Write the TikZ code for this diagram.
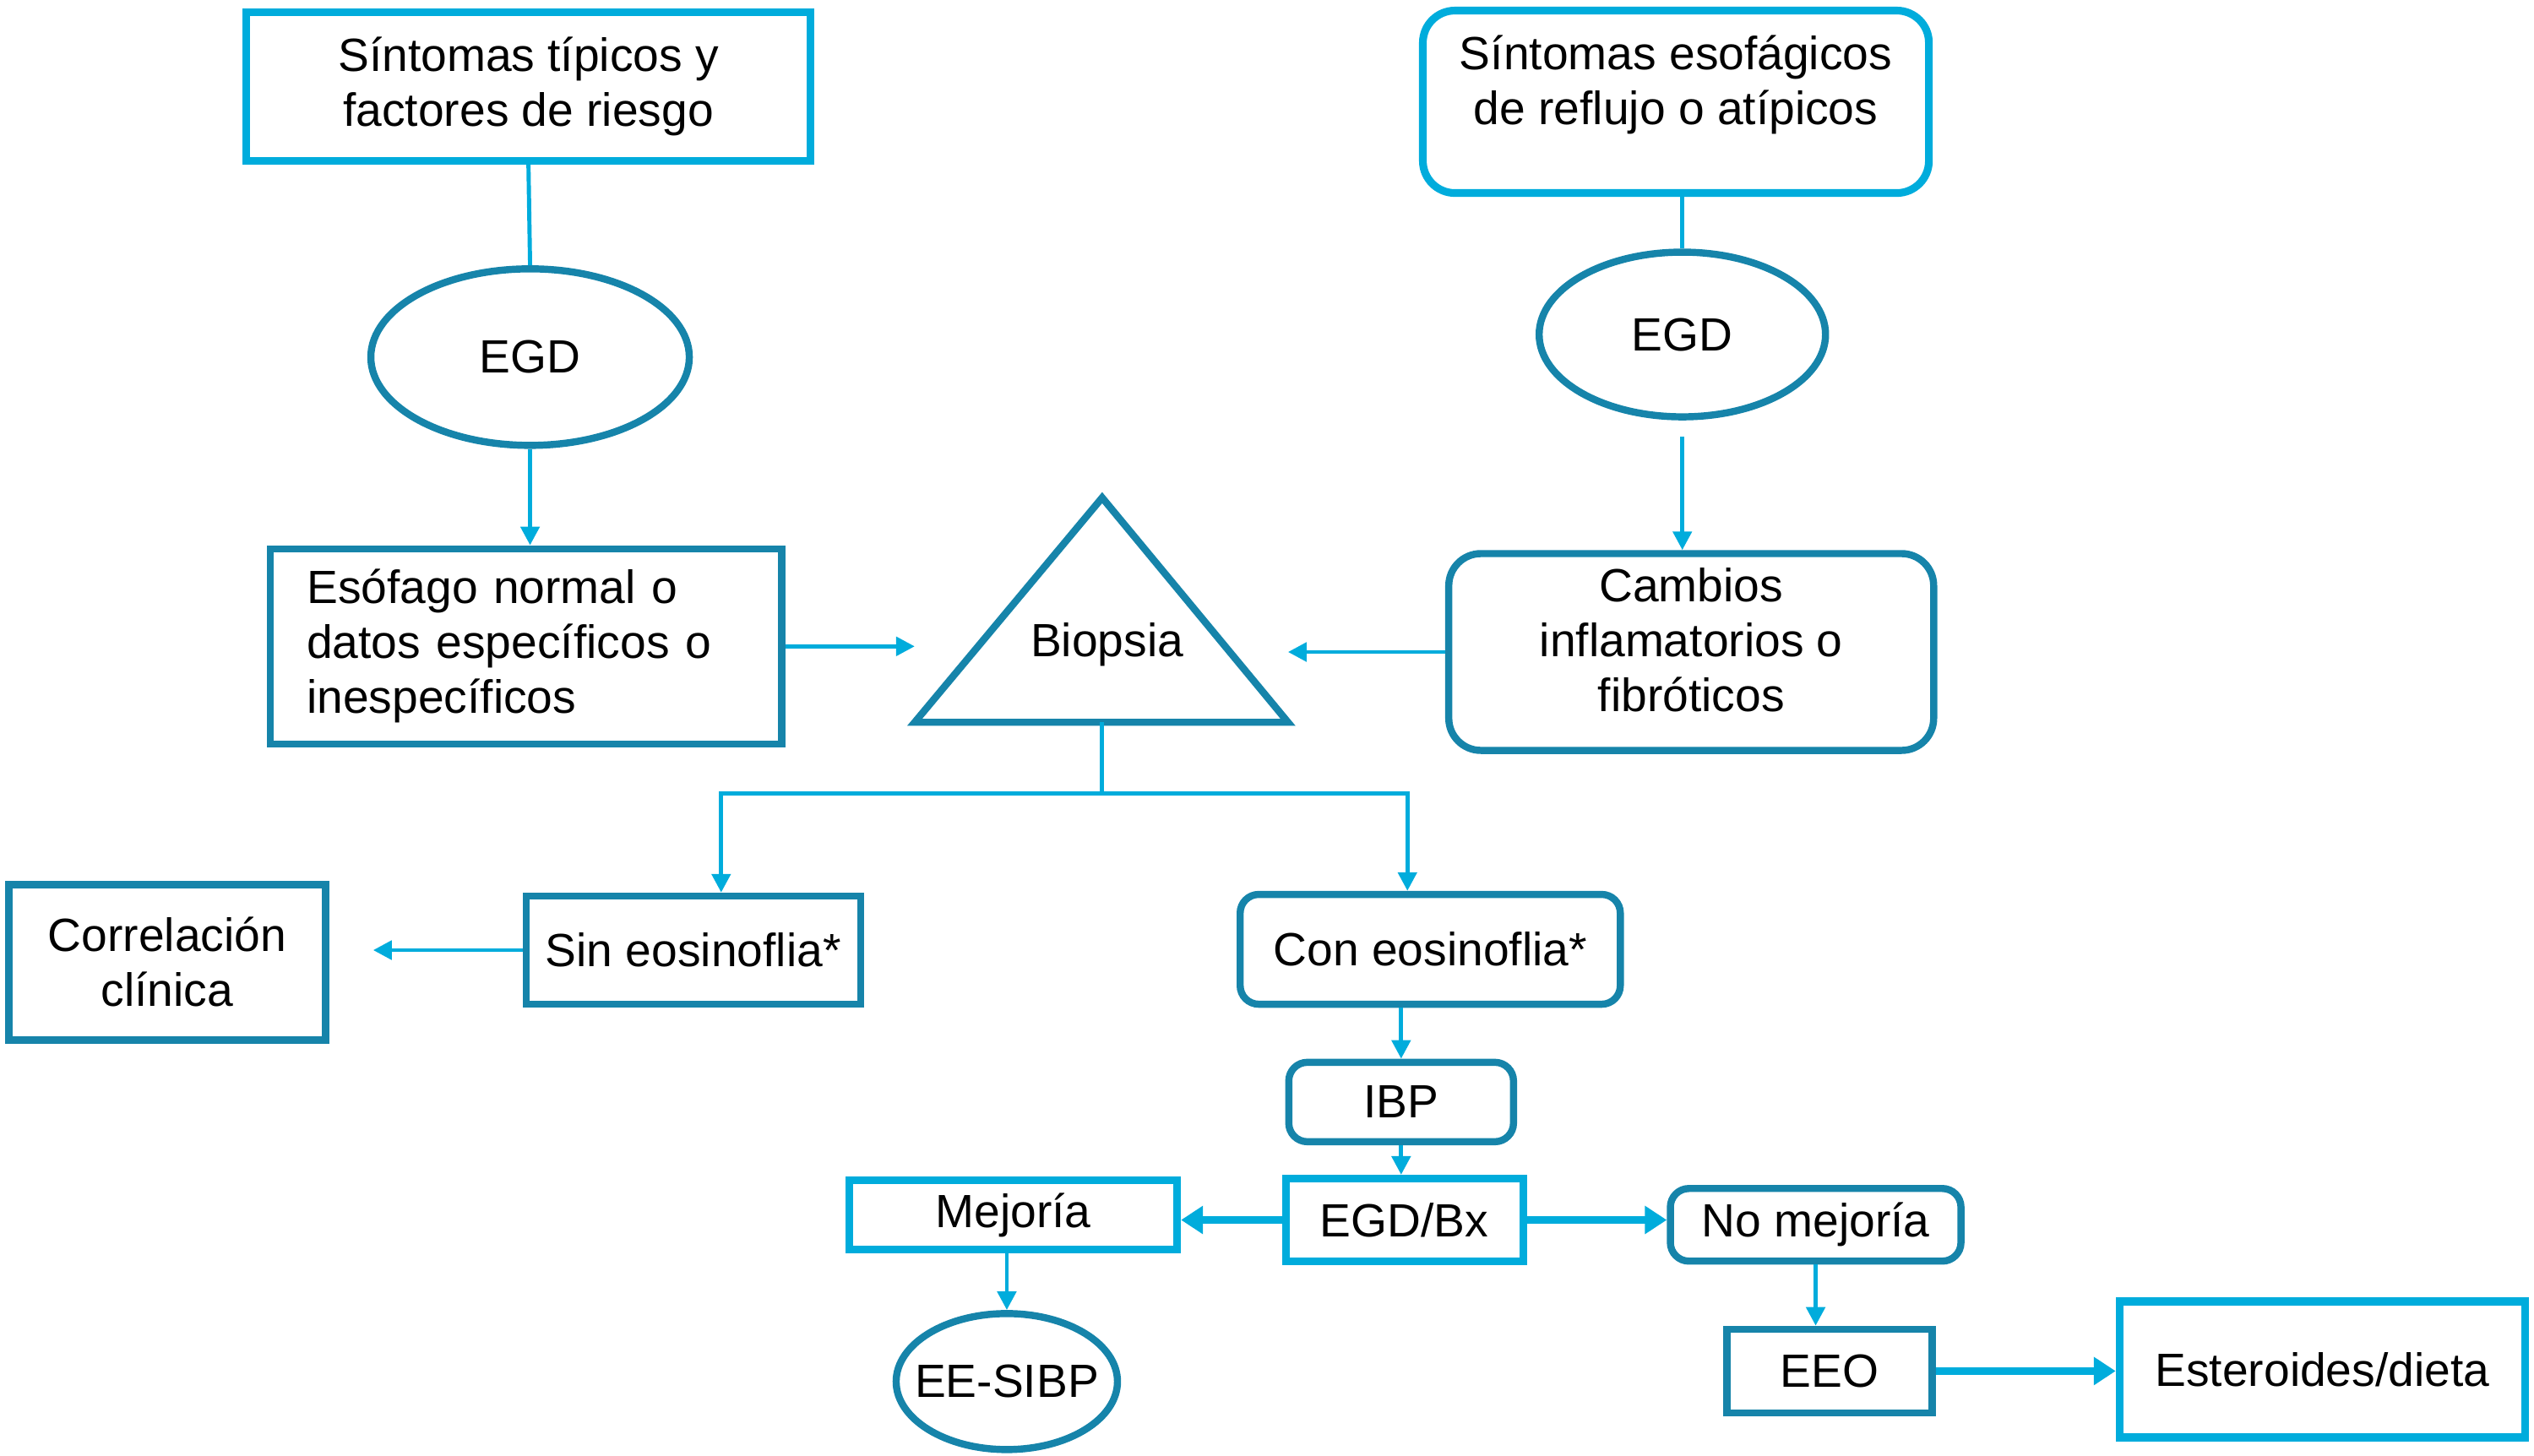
\documentclass[tikz,border=0pt]{standalone}
\usepackage{fontspec}
\setmainfont{Liberation Sans}
\usepackage{tikz}
\usetikzlibrary{arrows.meta}
\usetikzlibrary{shapes.geometric}
\usepackage{xcolor}

\definecolor{lightblue}{RGB}{0,172,220}
\definecolor{darkblue}{RGB}{22,132,170}

\begin{document}
\begin{tikzpicture}[x=0.1913mm, y=-0.1913mm,
  every node/.style={font=\fontsize{15.7}{18.5}\selectfont, align=center, inner sep=0pt},
  lightbox/.style={draw=lightblue, line width=2.6pt},
  darkbox/.style={draw=darkblue, line width=2.4pt},
  roundlight/.style={lightbox, rounded corners=3.8mm},
  rounddark/.style={darkbox, rounded corners=2.2mm},
  oval/.style={ellipse, draw=darkblue, line width=2.4pt},
  conn/.style={draw=lightblue, line width=1.4pt},
  arr/.style={conn, -{Triangle[length=2.2mm, width=2.2mm]}},
  bigarr/.style={draw=lightblue, line width=2.4pt, -{Triangle[length=2.6mm, width=3.2mm]}}
]

\useasboundingbox (0,0) rectangle (1568,901);

% top row
\node[lightbox, minimum width=66.8mm, minimum height=17.6mm] (sintip) at (327,53.5) {Síntomas típicos y\\factores de riesgo};
\node[roundlight, minimum width=59.9mm, minimum height=21.6mm] (sintesof) at (1037,63) {Síntomas esofágicos\\de reflujo o atípicos\\[-4pt]\mbox{}};

\node[oval, minimum width=37.7mm, minimum height=20.9mm] (egdA) at (328,221) {EGD};
\node[oval, minimum width=33.9mm, minimum height=19.5mm] (egdB) at (1041,207) {EGD};

\node[darkbox, minimum width=60.5mm, minimum height=23.1mm, text width=51.9mm, inner xsep=4.3mm, align=left] (esof) at (325.5,400) {Esófago normal o\\datos específicos o\\inespecíficos};
\node[darkbox, rounded corners=3.8mm, minimum width=57.4mm, minimum height=23.3mm] (cambios) at (1046.5,403.5) {Cambios\\inflamatorios o\\fibróticos\\[-10pt]\mbox{}};

% biopsia triangle
\coordinate (triL) at (566,447);
\coordinate (triR) at (797,447);
\coordinate (triT) at (682,308);
\coordinate (triB) at (682,447);
\draw[darkblue, line width=2.4pt, line join=miter] (triL) -- (triT) -- (triR) -- cycle;
\node (biopsia) at (685,399) {Biopsia};

% lower part
\node[darkbox, minimum width=37.5mm, minimum height=18.4mm] (correl) at (103.5,595.5) {Correlación\\clínica};
\node[darkbox, minimum width=39.6mm, minimum height=12.8mm] (sineos) at (429,588) {Sin eosinoflia*};
\node[rounddark, minimum width=45mm, minimum height=13mm] (coneos) at (885,587.5) {Con eosinoflia*};
\node[rounddark, minimum width=26.6mm, minimum height=9.4mm] (ibp) at (867,682) {IBP};
\node[lightbox, minimum width=28.1mm, minimum height=9.8mm] (egdbx) at (869,755) {EGD/Bx};
\node[lightbox, minimum width=38.8mm, minimum height=8.2mm] (mejoria) at (627,752) {Mejoría};
\node[oval, inner xsep=-3.1mm, minimum width=26.2mm, minimum height=16.1mm] (eesibp) at (623,855) {EE-SIBP};
\node[rounddark, minimum width=34.4mm, minimum height=8.6mm] (nomej) at (1123.5,758) {No mejoría};
\node[darkbox, minimum width=24.3mm, minimum height=9.9mm] (eeo) at (1132,848.5) {EEO};
\node[lightbox, minimum width=48mm, minimum height=16.1mm] (ester) at (1437,847.5) {Esteroides/dieta};

% connectors
\draw[conn] (sintip.south) -- (egdA.north);
\draw[arr] (egdA.south) -- (egdA.south |- esof.north);
\draw[conn] (egdB.north |- sintesof.south) -- (egdB.north);
\draw[arr, shorten <=1.9mm] (egdB.south) -- (egdB.south |- cambios.north);
\draw[arr] (esof.east) -- (esof.east -| triL);
\draw[arr] (cambios.west) -- (cambios.west -| triR);

\draw[conn] (triB) -- ++(0,44) coordinate (split);
\draw[arr] (split) -| ([xshift=3.3mm]sineos.north);
\draw[arr] (split) -| ([xshift=-2.7mm]coneos.north);
\draw[arr, shorten >=5.2mm] (sineos.west) -- (sineos.west -| correl.east);

\draw[arr] (ibp.north |- coneos.south) -- (ibp.north);
\draw[arr] (ibp.south) -- (ibp.south |- egdbx.north);
\draw[bigarr] (egdbx.west) -- (egdbx.west -| mejoria.east);
\draw[arr] (eesibp.north |- mejoria.south) -- (eesibp.north);
\draw[bigarr] (egdbx.east) -- (egdbx.east -| nomej.west);
\draw[arr] (nomej.south) -- (nomej.south |- eeo.north);
\draw[bigarr] (eeo.east) -- (eeo.east -| ester.west);

\end{tikzpicture}
\end{document}
